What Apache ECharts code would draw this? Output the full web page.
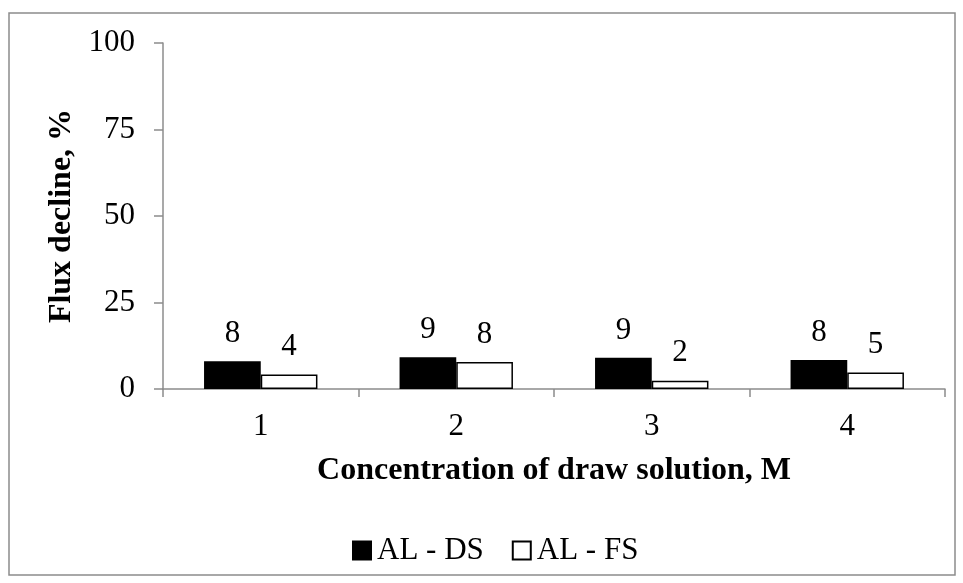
<!DOCTYPE html>
<html><head><meta charset="utf-8">
<script src="https://cdn.jsdelivr.net/npm/echarts@6/dist/echarts.min.js"></script>
<style>html,body{margin:0;padding:0;background:#fff}#c{width:963px;height:583px}</style>
</head><body><div id="c"></div>
<script>
const categories = ['1', '2', '3', '4'];
const seriesNames = ['AL - DS', 'AL - FS'];
const dsValues = [8.0, 9.2, 9.0, 8.4];
const fsValues = [4.2, 7.8, 2.4, 4.8];
const yTicks = [0, 25, 50, 75, 100];

const font = '"Liberation Serif", "Times New Roman", serif';
const chart = echarts.init(document.getElementById('c'));
const lbl = {show: true, position: 'top', distance: 12, color: '#000', fontFamily: font, fontSize: 31,
  formatter: p => Math.round(p.value)};
chart.setOption({
  animation: false,
  graphic: [{type: 'rect', shape: {x: 9, y: 13, width: 946, height: 562}, style: {fill: 'none', stroke: '#8c8c8c', lineWidth: 1.5}}],
  grid: {left: 163, right: 18, top: 43, bottom: 194},
  legend: {top: 530, left: 347, itemWidth: 18, itemHeight: 18, itemGap: 28,
    textStyle: {fontFamily: font, fontSize: 31, color: '#000', padding: [0, 0, 0, 1]},
    data: [{name: seriesNames[0], icon: 'rect'}, {name: seriesNames[1], icon: 'rect'}]},
  xAxis: {type: 'category', data: categories,
    axisLine: {lineStyle: {color: '#8c8c8c', width: 1.5}},
    axisTick: {show: true, length: 8, lineStyle: {color: '#8c8c8c', width: 1.5}},
    axisLabel: {color: '#000', fontFamily: font, fontSize: 31, margin: 22},
    name: 'Concentration of draw solution, M', nameLocation: 'middle', nameGap: 66,
    nameTextStyle: {color: '#000', fontFamily: font, fontSize: 32, fontWeight: 'bold'}},
  yAxis: {type: 'value', min: 0, max: 100, interval: 25,
    axisLine: {show: true, lineStyle: {color: '#8c8c8c', width: 1.5}},
    axisTick: {show: true, length: 9, lineStyle: {color: '#8c8c8c', width: 1.5}},
    splitLine: {show: false},
    axisLabel: {color: '#000', fontFamily: font, fontSize: 31, margin: 28,
      formatter: v => yTicks.includes(v) ? String(v) : ''},
    name: 'Flux decline, %', nameLocation: 'middle', nameGap: 85,
    nameTextStyle: {color: '#000', fontFamily: font, fontSize: 32, fontWeight: 'bold'}},
  series: [
    {name: seriesNames[0], type: 'bar', data: dsValues, barGap: '0%', barCategoryGap: '42%',
     itemStyle: {color: '#000', borderColor: '#000', borderWidth: 1.5}, label: lbl},
    {name: seriesNames[1], type: 'bar', data: fsValues,
     itemStyle: {color: '#fff', borderColor: '#000', borderWidth: 1.5}, label: lbl}
  ]
});
</script></body></html>
